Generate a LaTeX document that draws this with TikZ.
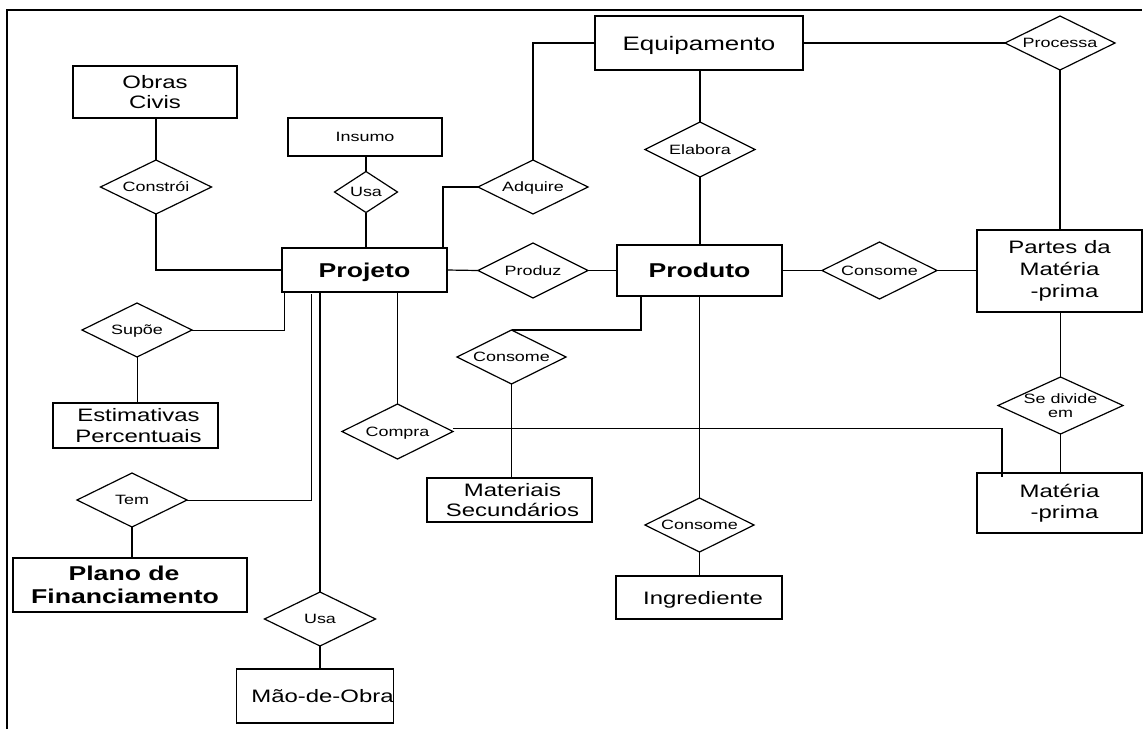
\documentclass[tikz,border=0pt]{standalone}
\usepackage{fontspec}
\setmainfont{Liberation Sans}[FakeStretch=1.33]
\usetikzlibrary{shapes.geometric}

\begin{document}
\begin{tikzpicture}[x=1pt,y=-1pt,
  ent/.style={draw, line width=1.4pt, inner sep=0pt, outer sep=0pt,
              font=\fontsize{18}{20.5}\selectfont, align=center},
  entone/.style={ent, text height=13pt, text depth=0pt},
  entbold/.style={ent, font=\fontsize{20}{23}\selectfont\bfseries},
  entboldone/.style={entbold, text height=14.4pt, text depth=0pt},
  rel/.style={draw, diamond, line width=1.2pt, inner sep=0pt, outer sep=0pt},
  reltext/.style={font=\fontsize{13.5}{14.5}\selectfont, inner sep=0pt,
                  text height=9.7pt, text depth=0pt},
  reltwo/.style={font=\fontsize{13.5}{14.3}\selectfont, inner sep=0pt, align=center},
  link/.style={line width=1.2pt},
  thinlink/.style={line width=0.8pt},
]
\useasboundingbox (0,0) rectangle (1147,729);

% page frame (top and left edges only)
\draw[line width=2.4pt] (7,729) -- (7,10) -- (1142,10);

% ---------- entities ----------
\node[ent, minimum width=164, minimum height=52] (obras) at (155,92) {Obras\\Civis};
\node[ent, minimum width=154, minimum height=38, font=\fontsize{13.5}{15}\selectfont,
      text height=9.7pt, text depth=0pt] (insumo) at (365,137) {Insumo};
\node[entone, minimum width=208, minimum height=54, font=\fontsize{19.5}{21}\selectfont,
      text height=14pt] (equip) at (699,43) {Equipamento};
\node[entboldone, minimum width=165, minimum height=44] (projeto) at (364.5,270) {Projeto};
\node[entboldone, minimum width=165, minimum height=51] (produto) at (699.5,270.5) {Produto};
\node[ent, minimum width=165, minimum height=82, font=\fontsize{18}{22}\selectfont]
      (partes) at (1059.5,271) {Partes da\\Matéria\\\hspace*{10pt}-prima};
\node[ent, minimum width=165, minimum height=44] (materiais) at (509.5,500)
      {\hspace*{6pt}Materiais\\\hspace*{6pt}Secundários};
\node[ent, minimum width=165, minimum height=45] (estim) at (135.5,425.5)
      {\hspace*{6pt}Estimativas\\\hspace*{6pt}Percentuais};
\node[ent, minimum width=165, minimum height=60, font=\fontsize{18}{21.5}\selectfont]
      (materia) at (1059.5,503) {Matéria\\\hspace*{10pt}-prima};
\node[entone, minimum width=166, minimum height=43] (ingred) at (699,597.5)
      {\hspace*{8pt}Ingrediente};
\node[entbold, minimum width=234, minimum height=54] (plano) at (130,585)
      {Plano de\hspace*{12pt}\\Financiamento\hspace*{10pt}};
\node[entone, minimum width=156, minimum height=54] (mao) at (315,696)
      {\hspace*{15pt}Mão-de-Obra};

% ---------- relationships ----------
\node[rel, minimum width=111, minimum height=54, label={[reltext]center:Constrói}] (constroi) at (156,187) {};
\node[rel, minimum width=63, minimum height=41, label={[reltext]center:Usa}] (usa1) at (366,192) {};
\node[rel, minimum width=110, minimum height=54, label={[reltext]center:Adquire}] (adquire) at (533,187) {};
\node[rel, minimum width=110, minimum height=55, label={[reltext]center:Elabora}] (elabora) at (700,149.5) {};
\node[rel, minimum width=110, minimum height=54, label={[reltext]center:Processa}] (processa) at (1060,43) {};
\node[rel, minimum width=110, minimum height=55, label={[reltext]center:Produz}] (produz) at (533,270.5) {};
\node[rel, minimum width=115, minimum height=57, label={[reltext]center:Consome}] (consomer) at (879.5,270.5) {};
\node[rel, minimum width=109, minimum height=54, label={[reltext]center:Consome}] (consomem) at (511.5,357) {};
\node[rel, minimum width=111, minimum height=55, label={[reltext]center:Compra}] (compra) at (397.5,431.5) {};
\node[rel, minimum width=125, minimum height=57, label={[reltwo]center:{Se divide\\em}}] (sedivide) at (1060.5,405.5) {};
\node[rel, minimum width=109, minimum height=54, label={[reltext]center:Consome}] (consomeb) at (699.5,525) {};
\node[rel, minimum width=110, minimum height=54, label={[reltext]center:Supõe}] (supoe) at (137,330) {};
\node[rel, minimum width=110, minimum height=54, label={[reltext]center:Tem}] (tem) at (132,500) {};
\node[rel, minimum width=111, minimum height=54, label={[reltext]center:Usa}] (usa2) at (320,619) {};

% ---------- connectors ----------
\draw[link] (constroi.north |- obras.south) -- (constroi.north);
\draw[link] (constroi.south) |- (projeto.west);
\draw[link] (usa1.north) -- (usa1.north |- insumo.south);
\draw[link] (usa1.south) -- (usa1.south |- projeto.north);
\draw[link] (adquire.west) -| ([xshift=-4pt]projeto.north east);
\draw[link] (adquire.north) |- (equip.west);
\draw[link] (elabora.north) -- (elabora.north |- equip.south);
\draw[link] (elabora.south) -- (elabora.south |- produto.north);
\draw[link] (equip.east) -- (processa.west);
\draw[link] (processa.south) -- (processa.south |- partes.north);
\draw[link] (projeto.east) -- (produz.west);
\draw[link] (produz.east) -- (produz.east -| produto.west);
\draw[link] (produto.east |- consomer.west) -- (consomer.west);
\draw[link] (consomer.east) -- (consomer.east -| partes.west);
\draw[link] (sedivide.north) -- (sedivide.north |- partes.south);
\draw[link] (sedivide.south) -- (sedivide.south |- materia.north);
\draw[link] ([xshift=24pt]produto.south west) |- (consomem.north);
\draw[link] (consomem.south) -- (consomem.south |- materiais.north);
\draw[link] (compra.north) -- (compra.north |- projeto.south);
\draw[link] ([yshift=3pt]compra.east) -| ([xshift=25pt,yshift=-4pt]materia.north west);
\draw[thinlink] ([xshift=2pt]projeto.south west) |- (supoe.east);
\draw[thinlink] (supoe.south) -- (supoe.south |- estim.north);
\draw[thinlink] ([xshift=29pt,yshift=-2pt]projeto.south west) |- (tem.east);
\draw[link] (tem.south) -- (tem.south |- plano.north);
\draw[line width=1.6pt] (usa2.north) -- (usa2.north |- projeto.south);
\draw[link] (usa2.south) -- (usa2.south |- mao.north);
\draw[link] (consomeb.north) -- (consomeb.north |- produto.south);
\draw[link] (consomeb.south) -- (consomeb.south |- ingred.north);
\end{tikzpicture}
\end{document}
